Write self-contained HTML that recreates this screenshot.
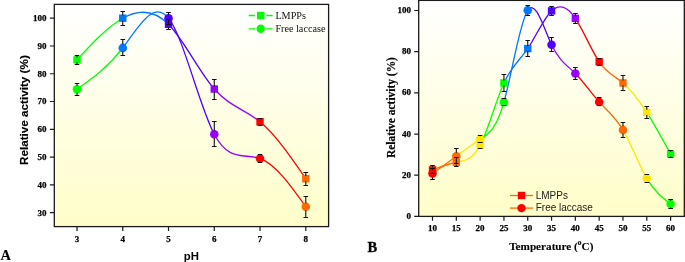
<!DOCTYPE html>
<html><head><meta charset="utf-8"><style>
html,body{margin:0;padding:0;background:#fff;}
body{width:685px;height:262px;overflow:hidden;}
svg{display:block;will-change:transform;}
</style></head><body>
<svg width="685" height="262" viewBox="0 0 685 262">
<defs><linearGradient id="g" x1="0" y1="0" x2="0" y2="1"><stop offset="0" stop-color="#ffffff"/><stop offset="1" stop-color="#fffec9"/></linearGradient></defs>
<rect x="54.3" y="4.4" width="274.3" height="222.2" fill="url(#g)"/>
<rect x="418.7" y="0.4" width="265.6" height="216" fill="url(#g)"/>
<g fill="none" stroke-width="1.3">
<path d="M77 59.86C92.25 43.36 107.51 26.85 122.76 18.21" stroke="#00ff00"/>
<path d="M122.76 18.21C138.01 9.57 153.27 8.79 168.52 24.32" stroke="#0078ff"/>
<path d="M168.52 24.32C183.77 39.84 199.03 71.67 214.28 89.02" stroke="#5000ff"/>
<path d="M214.28 89.02C229.53 106.38 244.79 109.25 260.04 121.79" stroke="#9900ff"/>
<path d="M260.04 121.79C275.29 134.33 290.55 156.52 305.8 178.72" stroke="#ff0000"/>
<path d="M77 89.3C92.25 78.58 107.51 67.86 122.76 47.92" stroke="#00ff00"/>
<path d="M122.76 47.92C138.01 27.99 153.27 -1.16 168.52 18.21" stroke="#0078ff"/>
<path d="M168.52 18.21C183.77 37.58 199.03 105.46 214.28 134.29" stroke="#5000ff"/>
<path d="M214.28 134.29C229.53 163.11 244.79 152.88 260.04 158.45" stroke="#9900ff"/>
<path d="M260.04 158.45C275.29 164.02 290.55 185.39 305.8 206.77" stroke="#ff0000"/>
<path d="M432.5 169.87C440.44 166.86 448.37 163.86 456.31 162.25" stroke="#ff6a00"/>
<path d="M456.31 162.25C464.25 160.63 472.18 160.4 480.12 145.36" stroke="#ffe600"/>
<path d="M480.12 145.36C488.06 130.32 495.99 100.47 503.93 82.98" stroke="#00ff00"/>
<path d="M503.93 82.98C511.87 65.48 519.8 60.35 527.74 48.59" stroke="#0078ff"/>
<path d="M527.74 48.59C535.68 36.84 543.61 18.47 551.55 10.91" stroke="#5000ff"/>
<path d="M551.55 10.91C559.49 3.36 567.42 6.61 575.36 18.32" stroke="#9900ff"/>
<path d="M575.36 18.32C583.3 30.03 591.23 50.2 599.17 61.77" stroke="#ff0000"/>
<path d="M599.17 61.77C607.11 73.34 615.04 76.32 622.98 82.98" stroke="#ff6a00"/>
<path d="M622.98 82.98C630.92 89.63 638.85 99.97 646.79 112.42" stroke="#ffe600"/>
<path d="M646.79 112.42C654.73 124.87 662.66 139.44 670.6 154.01" stroke="#00ff00"/>
<path d="M432.5 173.57C440.44 167.88 448.37 162.19 456.31 156.28" stroke="#ff6a00"/>
<path d="M456.31 156.28C464.25 150.36 472.18 144.23 480.12 139.19" stroke="#ffe600"/>
<path d="M480.12 139.19C488.06 134.15 495.99 130.21 503.93 102.13" stroke="#00ff00"/>
<path d="M503.93 102.13C511.87 74.04 519.8 21.81 527.74 10.29" stroke="#0078ff"/>
<path d="M527.74 10.29C535.68 -1.22 543.61 27.99 551.55 44.68" stroke="#5000ff"/>
<path d="M551.55 44.68C559.49 61.37 567.42 65.55 575.36 73.51" stroke="#9900ff"/>
<path d="M575.36 73.51C583.3 81.46 591.23 93.18 599.17 101.92" stroke="#ff0000"/>
<path d="M599.17 101.92C607.11 110.66 615.04 116.42 622.98 129.92" stroke="#ff6a00"/>
<path d="M622.98 129.92C630.92 143.42 638.85 164.66 646.79 178.31" stroke="#ffe600"/>
<path d="M646.79 178.31C654.73 191.95 662.66 198 670.6 204.05" stroke="#00ff00"/>
</g>
<rect x="73.3" y="56.16" width="7.4" height="7.4" fill="#00ff00"/>
<rect x="119.06" y="14.51" width="7.4" height="7.4" fill="#0078ff"/>
<rect x="164.82" y="20.62" width="7.4" height="7.4" fill="#5000ff"/>
<rect x="210.58" y="85.32" width="7.4" height="7.4" fill="#9900ff"/>
<rect x="256.34" y="118.09" width="7.4" height="7.4" fill="#ff0000"/>
<rect x="302.1" y="175.02" width="7.4" height="7.4" fill="#ff6a00"/>
<circle cx="77" cy="89.3" r="4.3" fill="#00ff00"/>
<circle cx="122.76" cy="47.92" r="4.3" fill="#0078ff"/>
<circle cx="168.52" cy="18.21" r="4.3" fill="#5000ff"/>
<circle cx="214.28" cy="134.29" r="4.3" fill="#9900ff"/>
<circle cx="260.04" cy="158.45" r="4.3" fill="#ff0000"/>
<circle cx="305.8" cy="206.77" r="4.3" fill="#ff6a00"/>
<rect x="428.8" y="166.17" width="7.4" height="7.4" fill="#ff0000"/>
<rect x="452.61" y="158.55" width="7.4" height="7.4" fill="#ff6a00"/>
<rect x="476.42" y="141.66" width="7.4" height="7.4" fill="#ffe600"/>
<rect x="500.23" y="79.28" width="7.4" height="7.4" fill="#00ff00"/>
<rect x="524.04" y="44.89" width="7.4" height="7.4" fill="#0078ff"/>
<rect x="547.85" y="7.21" width="7.4" height="7.4" fill="#5000ff"/>
<rect x="571.66" y="14.62" width="7.4" height="7.4" fill="#9900ff"/>
<rect x="595.47" y="58.07" width="7.4" height="7.4" fill="#ff0000"/>
<rect x="619.28" y="79.28" width="7.4" height="7.4" fill="#ff6a00"/>
<rect x="643.09" y="108.72" width="7.4" height="7.4" fill="#ffe600"/>
<rect x="666.9" y="150.31" width="7.4" height="7.4" fill="#00ff00"/>
<circle cx="432.5" cy="173.57" r="4.3" fill="#ff0000"/>
<circle cx="456.31" cy="156.28" r="4.3" fill="#ff6a00"/>
<circle cx="480.12" cy="139.19" r="4.3" fill="#ffe600"/>
<circle cx="503.93" cy="102.13" r="4.3" fill="#00ff00"/>
<circle cx="527.74" cy="10.29" r="4.3" fill="#0078ff"/>
<circle cx="551.55" cy="44.68" r="4.3" fill="#5000ff"/>
<circle cx="575.36" cy="73.51" r="4.3" fill="#9900ff"/>
<circle cx="599.17" cy="101.92" r="4.3" fill="#ff0000"/>
<circle cx="622.98" cy="129.92" r="4.3" fill="#ff6a00"/>
<circle cx="646.79" cy="178.31" r="4.3" fill="#ffe600"/>
<circle cx="670.6" cy="204.05" r="4.3" fill="#00ff00"/>
<g stroke="#111" stroke-width="1.1" fill="none"><path d="M74.7 55.5H79.3M74.7 64.5H79.3M77 55.5V57.26M77 62.46V64.5"/><path d="M120.46 11.5H125.06M120.46 25.5H125.06M122.76 11.5V15.61M122.76 20.81V25.5"/><path d="M166.22 19.5H170.82M166.22 29.5H170.82M168.52 19.5V21.72M168.52 26.92V29.5"/><path d="M211.98 79.5H216.58M211.98 99.5H216.58M214.28 79.5V86.42M214.28 91.62V99.5"/><path d="M257.74 118.5H262.34M257.74 125.5H262.34M260.04 118.5V119.19M260.04 124.39V125.5"/><path d="M303.5 172.5H308.1M303.5 185.5H308.1M305.8 172.5V176.12M305.8 181.32V185.5"/></g>
<g stroke="#111" stroke-width="1.1" fill="none"><path d="M74.7 83.5H79.3M74.7 95.5H79.3M77 83.5V85.7M77 92.9V95.5"/><path d="M120.46 39.5H125.06M120.46 55.5H125.06M122.76 39.5V44.32M122.76 51.52V55.5"/><path d="M166.22 12.5H170.82M166.22 24.5H170.82M168.52 12.5V14.61M168.52 21.81V24.5"/><path d="M211.98 121.5H216.58M211.98 146.5H216.58M214.28 121.5V130.69M214.28 137.89V146.5"/><path d="M257.74 154.5H262.34M257.74 162.5H262.34M260.04 154.5V154.85M260.04 162.05V162.5"/><path d="M303.5 196.5H308.1M303.5 217.5H308.1M305.8 196.5V203.17M305.8 210.37V217.5"/></g>
<g stroke="#111" stroke-width="1.1" fill="none"><path d="M430.2 165.5H434.8M430.2 173.5H434.8M432.5 165.5V167.27M432.5 172.47V173.5"/><path d="M454.01 157.5H458.61M454.01 166.5H458.61M456.31 157.5V159.65M456.31 164.85V166.5"/><path d="M477.82 142.5H482.42M477.82 148.5H482.42M480.12 142.5V142.76M480.12 147.96V148.5"/><path d="M501.63 74.5H506.23M501.63 91.5H506.23M503.93 74.5V80.38M503.93 85.58V91.5"/><path d="M525.44 40.5H530.04M525.44 56.5H530.04M527.74 40.5V45.99M527.74 51.19V56.5"/><path d="M549.25 6.5H553.85M549.25 15.5H553.85M551.55 6.5V8.31M551.55 13.51V15.5"/><path d="M573.06 13.5H577.66M573.06 23.5H577.66M575.36 13.5V15.72M575.36 20.92V23.5"/><path d="M596.87 58.5H601.47M596.87 65.5H601.47M599.17 58.5V59.17M599.17 64.37V65.5"/><path d="M620.68 75.5H625.28M620.68 90.5H625.28M622.98 75.5V80.38M622.98 85.58V90.5"/><path d="M644.49 106.5H649.09M644.49 118.5H649.09M646.79 106.5V109.82M646.79 115.02V118.5"/><path d="M668.3 150.5H672.9M668.3 157.5H672.9M670.6 150.5V151.41M670.6 156.61V157.5"/></g>
<g stroke="#111" stroke-width="1.1" fill="none"><path d="M430.2 168.5H434.8M430.2 179.5H434.8M432.5 168.5V169.97M432.5 177.17V179.5"/><path d="M454.01 148.5H458.61M454.01 163.5H458.61M456.31 148.5V152.68M456.31 159.88V163.5"/><path d="M477.82 135.5H482.42M477.82 142.5H482.42M480.12 135.5V135.59M480.12 142.79V142.5"/><path d="M501.63 98.5H506.23M501.63 105.5H506.23M503.93 98.5V98.53M503.93 105.73V105.5"/><path d="M525.44 5.5H530.04M525.44 15.5H530.04M527.74 5.5V6.69M527.74 13.89V15.5"/><path d="M549.25 37.5H553.85M549.25 51.5H553.85M551.55 37.5V41.08M551.55 48.28V51.5"/><path d="M573.06 67.5H577.66M573.06 79.5H577.66M575.36 67.5V69.91M575.36 77.11V79.5"/><path d="M596.87 97.5H601.47M596.87 105.5H601.47M599.17 97.5V98.32M599.17 105.52V105.5"/><path d="M620.68 122.5H625.28M620.68 137.5H625.28M622.98 122.5V126.32M622.98 133.52V137.5"/><path d="M644.49 174.5H649.09M644.49 182.5H649.09M646.79 174.5V174.71M646.79 181.91V182.5"/><path d="M668.3 199.5H672.9M668.3 208.5H672.9M670.6 199.5V200.45M670.6 207.65V208.5"/></g>
<rect x="54.3" y="4.4" width="274.3" height="222.2" fill="none" stroke="#1a1a1a" stroke-width="1.3"/>
<rect x="418.7" y="0.4" width="265.6" height="216" fill="none" stroke="#1a1a1a" stroke-width="1.3"/>
<path d="M49.9 212.6H54.3M49.9 184.83H54.3M49.9 157.06H54.3M49.9 129.29H54.3M49.9 101.52H54.3M49.9 73.75H54.3M49.9 45.98H54.3M49.9 18.21H54.3M77 226.6V230.9M122.76 226.6V230.9M168.52 226.6V230.9M214.28 226.6V230.9M260.04 226.6V230.9M305.8 226.6V230.9M414.2 216.4H418.7M414.2 175.22H418.7M414.2 134.04H418.7M414.2 92.86H418.7M414.2 51.68H418.7M414.2 10.5H418.7M432.5 216.4V220.7M456.31 216.4V220.7M480.12 216.4V220.7M503.93 216.4V220.7M527.74 216.4V220.7M551.55 216.4V220.7M575.36 216.4V220.7M599.17 216.4V220.7M622.98 216.4V220.7M646.79 216.4V220.7M670.6 216.4V220.7" stroke="#1a1a1a" stroke-width="1.2" fill="none"/>
<g font-family="Liberation Serif" font-weight="bold" font-size="9" fill="#000" stroke="#000" stroke-width="0.25"><text x="46.5" y="215.5" text-anchor="end">30</text><text x="46.5" y="187.73" text-anchor="end">40</text><text x="46.5" y="159.96" text-anchor="end">50</text><text x="46.5" y="132.19" text-anchor="end">60</text><text x="46.5" y="104.42" text-anchor="end">70</text><text x="46.5" y="76.65" text-anchor="end">80</text><text x="46.5" y="48.88" text-anchor="end">90</text><text x="46.5" y="21.11" text-anchor="end">100</text><text x="77" y="242" text-anchor="middle">3</text><text x="122.76" y="242" text-anchor="middle">4</text><text x="168.52" y="242" text-anchor="middle">5</text><text x="214.28" y="242" text-anchor="middle">6</text><text x="260.04" y="242" text-anchor="middle">7</text><text x="305.8" y="242" text-anchor="middle">8</text><text x="411" y="219" text-anchor="end">0</text><text x="411" y="177.82" text-anchor="end">20</text><text x="411" y="136.64" text-anchor="end">40</text><text x="411" y="95.46" text-anchor="end">60</text><text x="411" y="54.28" text-anchor="end">80</text><text x="411" y="13.1" text-anchor="end">100</text><text x="432.5" y="231" text-anchor="middle">10</text><text x="456.31" y="231" text-anchor="middle">15</text><text x="480.12" y="231" text-anchor="middle">20</text><text x="503.93" y="231" text-anchor="middle">25</text><text x="527.74" y="231" text-anchor="middle">30</text><text x="551.55" y="231" text-anchor="middle">35</text><text x="575.36" y="231" text-anchor="middle">40</text><text x="599.17" y="231" text-anchor="middle">45</text><text x="622.98" y="231" text-anchor="middle">50</text><text x="646.79" y="231" text-anchor="middle">55</text><text x="670.6" y="231" text-anchor="middle">60</text></g>
<text x="191.3" y="259.9" text-anchor="middle" font-family="Liberation Sans" font-weight="bold" font-size="11.4" fill="#000">pH</text>
<text transform="translate(28 110.1) rotate(-90)" text-anchor="middle" font-family="Liberation Sans" font-weight="bold" font-size="11.7" fill="#000" stroke="#000" stroke-width="0.15">Relative activity (%)</text>
<text x="551.3" y="249.8" text-anchor="middle" font-family="Liberation Serif" font-weight="bold" font-size="11.2" fill="#000" stroke="#000" stroke-width="0.12">Temperature (<tspan font-size="7.5" dy="-4.5">o</tspan><tspan dy="4.5">C)</tspan></text>
<text transform="translate(395 107.6) rotate(-90)" text-anchor="middle" font-family="Liberation Serif" font-weight="bold" font-size="11.45" fill="#000" stroke="#000" stroke-width="0.2">Relative activity (%)</text>
<text x="0.5" y="259.8" font-family="Liberation Serif" font-weight="bold" font-size="14.5" fill="#000" stroke="#000" stroke-width="0.1">A</text>
<text x="367.5" y="251.7" font-family="Liberation Serif" font-weight="bold" font-size="14.5" fill="#000" stroke="#000" stroke-width="0.3">B</text>
<path d="M248.7 15.5H255.1M266.3 15.5H272.7" stroke="#00ff00" stroke-width="1.3"/>
<rect x="257" y="11.8" width="7.4" height="7.4" fill="#00ff00"/>
<path d="M248.7 28.8H255.1M266.3 28.8H272.7" stroke="#00ff00" stroke-width="1.3"/>
<circle cx="260.7" cy="28.8" r="4.2" fill="#00ff00"/>
<g font-family="Liberation Serif" font-size="10.2" fill="#111"><text x="275.4" y="19">LMPPs</text><text x="275.4" y="31.8">Free laccase</text></g>
<path d="M510 195.5H533" stroke="#ff6a00" stroke-width="1.3"/>
<rect x="517.8" y="191.8" width="7.4" height="7.4" fill="#ff0000"/>
<path d="M510 208.1H533" stroke="#ff6a00" stroke-width="1.3"/>
<circle cx="521.5" cy="208.1" r="4.2" fill="#ff0000"/>
<g font-family="Liberation Sans" font-size="10" fill="#222"><text x="535.7" y="198.8">LMPPs</text><text x="535.7" y="211">Free laccase</text></g>
</svg>
</body></html>
